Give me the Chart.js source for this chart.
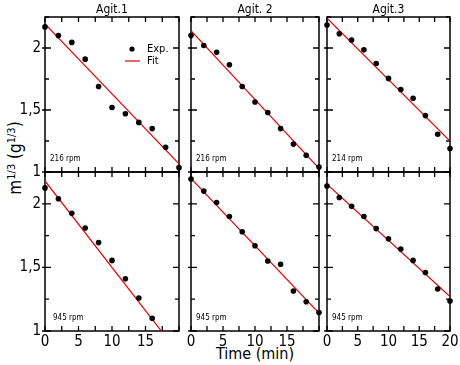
<!DOCTYPE html>
<html>
<head>
<meta charset="utf-8">
<script src="https://cdn.jsdelivr.net/npm/chart.js@4.4.0/dist/chart.umd.min.js"></script>
<style>
body { margin: 0; background: #fff; }
#wrap { position: relative; width: 460px; height: 365px; overflow: hidden;
        font-family: 'Liberation Sans Narrow', 'DejaVu Sans Condensed', Arial, sans-serif; color: #000; }
#wrap canvas { position: absolute; }
.ytitle { position: absolute; left: 15px; top: 158px; transform: translate(-50%, -50%) rotate(-90deg);
          font-size: 17px; white-space: nowrap; }
.ytitle sup { font-size: 11px; }
.xtitle { position: absolute; left: 255px; top: 353px; transform: translate(-50%, -50%);
          font-size: 16px; white-space: nowrap; }
</style>
</head>
<body>
<div id="wrap">
  <div class="ytitle">m<sup>1/3</sup> (g<sup>1/3</sup>)</div>
  <div class="xtitle">Time (min)</div>
</div>
<script>
// time axis (min)
const times = [0, 2, 4, 6, 8, 10, 12, 14, 16, 18, 20];
const timesAgit1_945 = [0, 2, 4, 6, 8, 10, 12, 14, 16];
const fitTimes = [0, 20];

// experimental points, m^1/3 (g^1/3)
const expAgit1_216 = [2.17, 2.10, 2.045, 1.91, 1.69, 1.52, 1.47, 1.40, 1.35, 1.20, 1.035];
const expAgit2_216 = [2.10, 2.02, 1.965, 1.865, 1.69, 1.565, 1.48, 1.35, 1.225, 1.135, 1.04];
const expAgit3_216 = [2.185, 2.115, 2.065, 1.985, 1.875, 1.755, 1.665, 1.595, 1.455, 1.305, 1.19];
const expAgit1_945 = [2.125, 2.04, 1.925, 1.81, 1.695, 1.555, 1.41, 1.26, 1.10];
const expAgit2_945 = [2.195, 2.10, 2.01, 1.90, 1.78, 1.67, 1.55, 1.525, 1.315, 1.23, 1.145];
const expAgit3_945 = [2.14, 2.05, 1.98, 1.90, 1.805, 1.725, 1.645, 1.555, 1.46, 1.33, 1.235];

// fitted lines, value at t = 0 and t = 20
const fitAgit1_216 = [2.195, 1.065];
const fitAgit2_216 = [2.14, 1.03];
const fitAgit3_216 = [2.24, 1.25];
const fitAgit1_945 = [2.18, 0.82];
const fitAgit2_945 = [2.20, 1.14];
const fitAgit3_945 = [2.155, 1.27];

const agitTitles = ['Agit.1', 'Agit. 2', 'Agit.3'];
const rpmLabels = [['216 rpm', '216 rpm', '214 rpm'], ['945 rpm', '945 rpm', '945 rpm']];
const xTickLabels = [0, 5, 10, 15, 20];
const yTickLabels = [1, 1.5, 2];

const FONT = "'Liberation Sans Narrow', 'DejaVu Sans Condensed', Arial, sans-serif";
Chart.defaults.font.family = FONT;
Chart.defaults.color = '#000';

// plot rectangles on the page
const colBox = [[45, 178.5], [191, 319], [327, 450]];
const rowBox = [[17, 172], [172, 331]];
const padL = 32, padR = 8, padB = 22;

const panels = [
  { row: 0, col: 0, x: times, y: expAgit1_216, fit: fitAgit1_216, legend: true },
  { row: 0, col: 1, x: times, y: expAgit2_216, fit: fitAgit2_216 },
  { row: 0, col: 2, x: times, y: expAgit3_216, fit: fitAgit3_216 },
  { row: 1, col: 0, x: timesAgit1_945, y: expAgit1_945, fit: fitAgit1_945 },
  { row: 1, col: 1, x: times, y: expAgit2_945, fit: fitAgit2_945 },
  { row: 1, col: 2, x: times, y: expAgit3_945, fit: fitAgit3_945 }
];

const isMult = (v, step) => Math.abs(v / step - Math.round(v / step)) < 1e-6;

// frame, inward ticks, titles, rpm note and legend
const panelDeco = {
  id: 'panelDeco',
  beforeDatasetsDraw(chart) {
    const o = chart.options.plugins.panelDeco;
    const a = chart.chartArea;
    const ctx = chart.ctx;
    const xs = chart.scales.x, ys = chart.scales.y;
    ctx.save();
    ctx.strokeStyle = '#000';
    ctx.lineWidth = 1.5;
    ctx.strokeRect(a.left, a.top, a.right - a.left, a.bottom - a.top);
    ctx.lineWidth = 1.3;
    ctx.beginPath();
    xs.ticks.forEach(t => {
      const px = xs.getPixelForValue(t.value);
      ctx.moveTo(px, a.bottom); ctx.lineTo(px, a.bottom - 5);
      ctx.moveTo(px, a.top); ctx.lineTo(px, a.top + 5);
    });
    ys.ticks.forEach(t => {
      const py = ys.getPixelForValue(t.value);
      const len = isMult(t.value, 0.5) ? 6 : 4;
      const out = isMult(t.value, 0.5) ? 3 : 0;
      ctx.moveTo(a.left - out, py); ctx.lineTo(a.left + len, py);
      ctx.moveTo(a.right, py); ctx.lineTo(a.right - len, py);
    });
    ctx.stroke();

    ctx.fillStyle = '#000';
    if (o.title) {
      ctx.font = '12px ' + FONT;
      ctx.textAlign = 'center';
      ctx.textBaseline = 'middle';
      ctx.fillText(o.title, (a.left + a.right) / 2, a.top - 7);
    }
    ctx.font = '8px ' + FONT;
    ctx.textAlign = 'left';
    ctx.textBaseline = 'middle';
    ctx.fillText(o.rpm, a.left + o.rpmDx, a.bottom - 13);

    if (o.legend) {
      const lx = a.left + 87, ly = a.top + 32;
      ctx.beginPath();
      ctx.arc(lx, ly, 2.6, 0, Math.PI * 2);
      ctx.fill();
      ctx.strokeStyle = '#e00000';
      ctx.lineWidth = 1.2;
      ctx.beginPath();
      ctx.moveTo(lx - 7, ly + 12); ctx.lineTo(lx + 8, ly + 12);
      ctx.stroke();
      ctx.font = '11px ' + FONT;
      ctx.fillText('Exp.', lx + 15, ly);
      ctx.fillText('Fit', lx + 15, ly + 12);
    }
    ctx.restore();
  }
};

const wrap = document.getElementById('wrap');

panels.forEach(p => {
  const [cl, cr] = colBox[p.col];
  const [rt, rb] = rowBox[p.row];
  const padT = p.row === 0 ? rt : 4;
  const canvas = document.createElement('canvas');
  canvas.width = Math.round(cr - cl + padL + padR);
  canvas.height = Math.round(rb - rt + padT + padB);
  canvas.style.left = (cl - padL) + 'px';
  canvas.style.top = (rt - padT) + 'px';
  wrap.appendChild(canvas);

  const showX = p.row === 1;
  const showY = p.col === 0;

  new Chart(canvas, {
    type: 'scatter',
    data: {
      datasets: [
        {
          label: 'Exp.',
          data: p.x.map((t, i) => ({ x: t, y: p.y[i] })),
          pointRadius: 2.8,
          pointBackgroundColor: '#000',
          pointBorderWidth: 0,
          showLine: false,
          clip: false
        },
        {
          label: 'Fit',
          type: 'line',
          data: fitTimes.map((t, i) => ({ x: t, y: p.fit[i] })),
          borderColor: '#e00000',
          borderWidth: 1.2,
          pointRadius: 0,
          fill: false
        }
      ]
    },
    options: {
      responsive: false,
      animation: false,
      devicePixelRatio: 1,
      layout: { padding: { left: 0, right: padR, top: padT, bottom: 0 } },
      plugins: {
        legend: { display: false },
        tooltip: { enabled: false },
        panelDeco: {
          title: p.row === 0 ? agitTitles[p.col] : '',
          rpm: rpmLabels[p.row][p.col],
          rpmDx: (p.row === 1 && p.col === 0) ? 8 : 5,
          legend: !!p.legend
        }
      },
      scales: {
        x: {
          type: 'linear',
          min: 0, max: 20,
          grid: { display: false, drawTicks: false, tickLength: 0 },
          border: { display: false },
          ticks: {
            display: showX,
            stepSize: 2.5,
            autoSkip: false,
            maxRotation: 0,
            padding: 2,
            font: { size: 15 },
            callback: v => (xTickLabels.includes(v) && (v < 20 || p.col === 2)) ? String(v) : ''
          },
          afterFit: s => { s.height = padB; s.paddingLeft = 0; s.paddingRight = 0; }
        },
        y: {
          min: 1, max: 2.25,
          grid: { display: false, drawTicks: false, tickLength: 0 },
          border: { display: false },
          ticks: {
            display: showY,
            stepSize: 0.25,
            autoSkip: false,
            padding: 4,
            font: { size: 15 },
            callback: v => yTickLabels.some(l => Math.abs(l - v) < 1e-6) ? String(v).replace('.', ',') : ''
          },
          afterFit: s => { s.width = padL; s.paddingTop = 0; s.paddingBottom = 0; }
        }
      }
    },
    plugins: [panelDeco]
  });
});
</script>
</body>
</html>
